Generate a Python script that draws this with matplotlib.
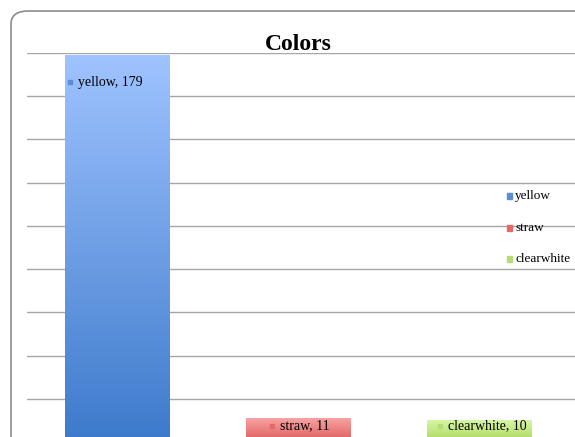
import matplotlib
matplotlib.use("Agg")
import matplotlib.pyplot as plt
import numpy as np
from matplotlib.patches import FancyBboxPatch
from matplotlib.colors import LinearSegmentedColormap

categories = ["yellow", "straw", "clearwhite"]
counts = [179, 11, 10]
top_colors = ["#9fc3ff", "#f7a3a3", "#d8f6a6"]
bottom_colors = ["#3d7acb", "#dc5b58", "#a9d75c"]
key_colors = ["#5b8ed8", "#e46a6a", "#b5dd74"]

plt.rcParams['font.family'] = ['Liberation Serif', 'DejaVu Serif']

fig = plt.figure(figsize=(5.75, 4.37), dpi=100)
W, H = 575, 437

# rounded chart frame (cropped on right/bottom)
frame = FancyBboxPatch((11 / W, -0.2), 1.2, (437 - 11) / H + 0.2,
                       boxstyle="round,pad=0,rounding_size=0.03",
                       transform=fig.transFigure, facecolor="white",
                       edgecolor="#8c8c8c", linewidth=1.2, zorder=-10)
fig.patches.append(frame)

ax = fig.add_axes([27 / W, (437 - 442) / H, (575 - 27) / W, (442 - 53) / H])
ax.patch.set_alpha(0)
x = np.arange(len(categories))
for s in ax.spines.values():
    s.set_visible(False)
ax.set_xticks([])
ax.set_yticks(np.arange(20, 181, 20))
ax.tick_params(left=False, labelleft=False)
ax.yaxis.grid(True, color="#a6a6a6", linewidth=1)
ax.set_axisbelow(True)

bars = ax.bar(x, counts, width=0.575, color="none", zorder=2)
for b, c1, c2 in zip(bars, top_colors, bottom_colors):
    cmap = LinearSegmentedColormap.from_list("g", [c2, c1])
    grad = np.linspace(0, 1, 256).reshape(-1, 1)
    x0, y0 = b.get_x(), b.get_y()
    ax.imshow(grad, cmap=cmap, origin="lower", aspect="auto",
              extent=(x0, x0 + b.get_width(), y0, y0 + b.get_height()), zorder=2)
ax.set_xlim(-0.497, 2.53)
ax.set_ylim(0, 180)

# data labels with legend keys
label_dx = [-0.26, -0.144, -0.215]
label_y = [166.5, 7.5, 7.5]
for i in range(len(categories)):
    ax.plot(x[i] + label_dx[i], label_y[i], marker="s", ms=3, color=key_colors[i],
            zorder=4, clip_on=False)
    ax.text(x[i] + label_dx[i] + 0.045, label_y[i], f"{categories[i]}, {counts[i]}",
            fontsize=10, va="center", ha="left", zorder=4)

# legend
leg_y = [196, 228, 259]
for name, col, yy in zip(categories, key_colors, leg_y):
    fig.patches.append(plt.Rectangle((507 / W, (437 - yy - 3) / H), 5 / W, 6 / H,
                                     transform=fig.transFigure, color=col, zorder=5))
    fig.text(515 / W, (437 - yy) / H, name, fontsize=9.5, va="center", ha="left")

fig.text(298 / W, (437 - 45) / H, "Colors", fontsize=17, fontweight="bold",
         ha="center", va="center")

fig.savefig("out.png", dpi=100)
